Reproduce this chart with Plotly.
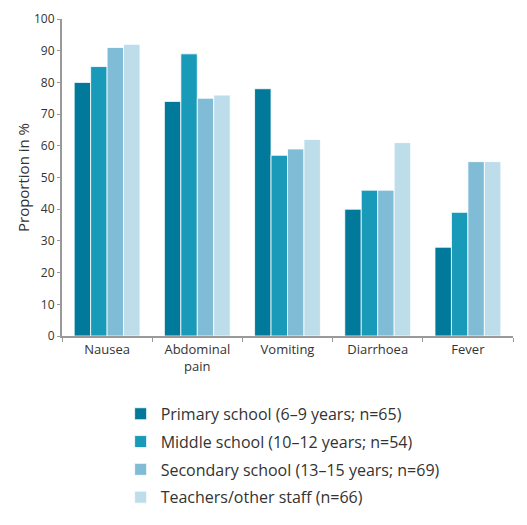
import plotly.graph_objects as go

categories = ["Nausea", "Abdominal<br>pain", "Vomiting", "Diarrhoea", "Fever"]
series_names = [
    "Primary school (6–9 years; n=65)",
    "Middle school (10–12 years; n=54)",
    "Secondary school (13–15 years; n=69)",
    "Teachers/other staff (n=66)",
]
primary = [80, 74, 78, 40, 28]
middle = [85, 89, 57, 46, 39]
secondary = [91, 75, 59, 46, 55]
teachers = [92, 76, 62, 61, 55]
colors = ["#00799B", "#1A9AB9", "#80BCD5", "#BEDDEA"]

fig = go.Figure()
for i, (name, vals, col) in enumerate(zip(series_names, [primary, middle, secondary, teachers], colors)):
    fig.add_trace(go.Bar(
        x=categories, y=vals, name=name, legendgroup=f"g{i}",
        marker=dict(color=col, line=dict(color="white", width=0.8)),
    ))

fig.update_layout(
    width=527, height=525,
    barmode="group", bargap=0.27, bargroupgap=0,
    plot_bgcolor="white", paper_bgcolor="white",
    margin=dict(l=62, r=14, t=19, b=189, autoexpand=False),
    font=dict(family="Open Sans, Noto Sans, sans-serif", color="#333333", size=13),
    legend=dict(
        orientation="v", x=0.13, xanchor="left", y=-0.192, yanchor="top",
        font=dict(size=16, color="#333333"),
        tracegroupgap=4,
        traceorder="grouped",
    ),
    xaxis=dict(
        showline=True, linecolor="#999999", linewidth=2, automargin=False,
        ticks="outside", tickson="boundaries", ticklen=4, tickcolor="#999999",
        tickfont=dict(size=13, color="#333333"),
        showgrid=False,
    ),
    yaxis=dict(
        range=[0, 100], dtick=10, showline=True, linecolor="#999999", linewidth=2,
        automargin=False,
        ticks="outside", ticklen=3, tickcolor="#999999",
        tickfont=dict(size=12, color="#333333"),
        showgrid=False, zeroline=False,
        title=dict(text="Proportion in %", font=dict(size=15, color="#333333"), standoff=1),
    ),
)

fig.write_html("out.html", config={"displayModeBar": False},
               post_script="document.body.style.margin='0';")
